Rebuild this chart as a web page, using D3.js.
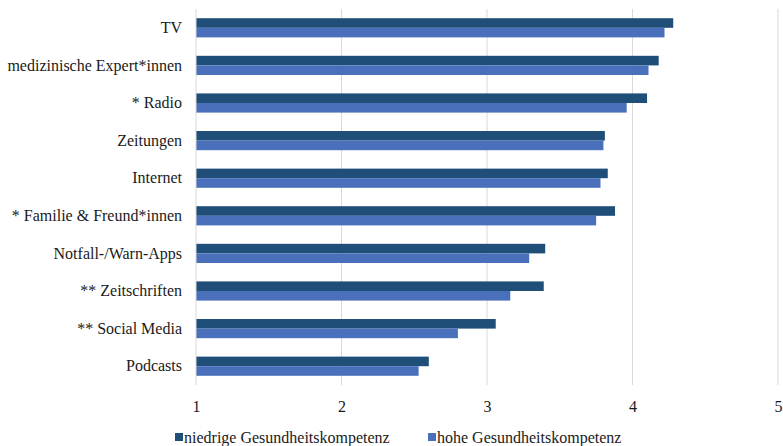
<!DOCTYPE html>
<html>
<head>
<meta charset="utf-8">
<script src="https://cdn.jsdelivr.net/npm/d3@7"></script>
<style>
  html, body { margin: 0; padding: 0; background: #fff; }
  svg { display: block; }
</style>
</head>
<body>
<svg id="chart" width="783" height="446"></svg>
<script>
// Mean trust per information source, by health-literacy group
const categories = [
  "TV", "medizinische Expert*innen", "* Radio", "Zeitungen", "Internet",
  "* Familie & Freund*innen", "Notfall-/Warn-Apps", "** Zeitschriften",
  "** Social Media", "Podcasts"
];
const niedrig = [4.28, 4.18, 4.10, 3.81, 3.83, 3.88, 3.40, 3.39, 3.06, 2.60];
const hoch    = [4.22, 4.11, 3.96, 3.80, 3.78, 3.75, 3.29, 3.16, 2.80, 2.53];
const seriesNames = ["niedrige Gesundheitskompetenz", "hohe Gesundheitskompetenz"];
const tickValues = [1, 2, 3, 4, 5];

const colors = ["#1f4e79", "#4a6fbb"];
const series = [niedrig, hoch];
const FONT = "'Liberation Serif'";
const TEXT = "#1a1a1a";

const svg = d3.select("#chart");
const x = d3.scaleLinear().domain([1, 5]).range([196, 778]);
const y = d3.scaleBand().domain(categories).range([9, 385]).paddingInner(0.49).paddingOuter(0.245);
const sub = d3.scaleBand().domain([0, 1]).range([0, y.bandwidth()]);

// vertical gridlines
svg.append("g")
  .selectAll("line")
  .data(tickValues.slice(1))
  .join("line")
  .attr("x1", d => x(d)).attr("x2", d => x(d))
  .attr("y1", 9).attr("y2", 385)
  .attr("stroke", "#d9d9d9").attr("stroke-width", 1);

// bars
const groups = svg.append("g")
  .selectAll("g")
  .data(categories)
  .join("g")
  .attr("transform", d => `translate(0,${y(d)})`);

groups.selectAll("rect")
  .data((d, i) => series.map((s, k) => ({ k, v: s[i] })))
  .join("rect")
  .attr("x", x(1))
  .attr("y", d => sub(d.k))
  .attr("width", d => x(d.v) - x(1))
  .attr("height", sub.bandwidth())
  .attr("fill", d => colors[d.k]);

// category axis line
svg.append("line")
  .attr("x1", x(1)).attr("x2", x(1))
  .attr("y1", 9).attr("y2", 385)
  .attr("stroke", "#d9d9d9").attr("stroke-width", 1);

// category labels
const yAxis = d3.axisLeft(y).tickSize(0).tickPadding(14);
const ya = svg.append("g").attr("transform", `translate(${x(1)},0)`).call(yAxis);
ya.select(".domain").remove();
ya.selectAll("text").style("font-family", FONT).style("font-size", "16px").attr("fill", TEXT);

// value axis labels
const xAxis = d3.axisBottom(x).tickValues(tickValues).tickSize(0).tickPadding(16).tickFormat(d3.format("d"));
const xa = svg.append("g").attr("transform", `translate(0,385)`).call(xAxis);
xa.select(".domain").remove();
xa.selectAll("text").style("font-family", FONT).style("font-size", "16px").attr("fill", TEXT);

// legend
const legendX = [175, 428];
const legend = svg.append("g")
  .selectAll("g")
  .data(seriesNames)
  .join("g")
  .attr("transform", (d, i) => `translate(${legendX[i]},437)`);
legend.append("rect").attr("x", 0).attr("y", -4).attr("width", 8).attr("height", 8)
  .attr("fill", (d, i) => colors[i]);
legend.append("text").attr("x", 9).attr("y", 5.5)
  .style("font-family", FONT).style("font-size", "16px").attr("fill", TEXT)
  .text(d => d);
</script>
</body>
</html>
